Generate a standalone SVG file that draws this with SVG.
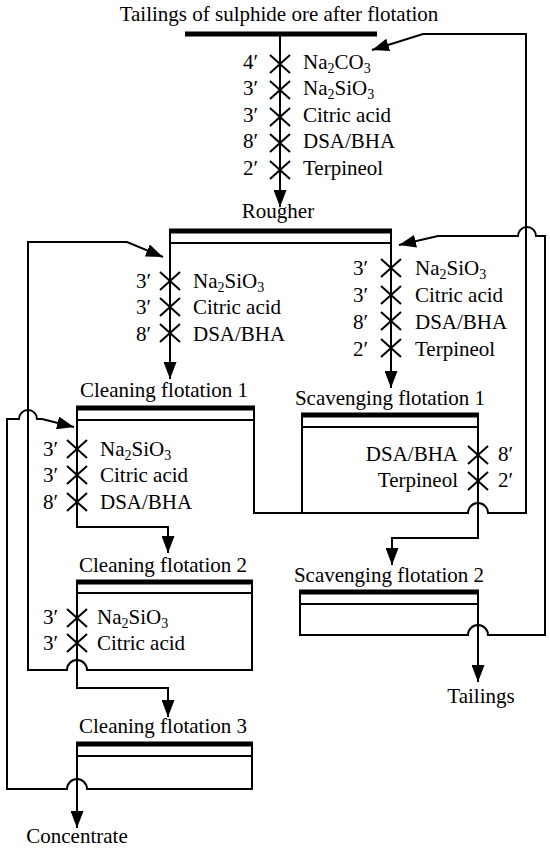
<svg xmlns="http://www.w3.org/2000/svg" width="550" height="851" viewBox="0 0 550 851" font-family="'Liberation Serif', 'Times New Roman', 'DejaVu Serif', serif" font-size="21">
<defs>
<marker id="ah" markerUnits="userSpaceOnUse" markerWidth="17" markerHeight="13" refX="17" refY="6.5" orient="auto" viewBox="0 0 17 13">
<path d="M0,0 L17,6.5 L0,13 z" fill="#000"/>
</marker>
<path id="x" d="M-10,-9 L10,9 M-10,9 L10,-9" stroke="#000" stroke-width="2" fill="none"/>
</defs>
<style>
.ln{fill:none;stroke:#000;stroke-width:2}
.ar{fill:none;stroke:#000;stroke-width:2;marker-end:url(#ah)}
.bar{fill:none;stroke:#000;stroke-width:5}
.thin{fill:none;stroke:#000;stroke-width:1.8}
text{font-family:'Liberation Serif', 'Times New Roman', 'DejaVu Serif', serif;font-size:21px;fill:#000}
.c{text-anchor:middle}
.e{text-anchor:end}
.s{font-size:14px}
</style>
<rect width="550" height="851" fill="#fff"/>

<g id="feed">
<line class="bar" x1="185" y1="34" x2="377" y2="34"/>
<text class="c" x="279" y="21">Tailings of sulphide ore after flotation</text>
</g>

<g id="rougher">
<line class="bar" x1="169" y1="231" x2="392" y2="231"/>
<line class="thin" x1="170" y1="243" x2="391" y2="243"/>
<text class="c" x="278" y="218">Rougher</text>
</g>

<g id="cleaning1">
<line class="bar" x1="76" y1="408" x2="255" y2="408"/>
<line class="thin" x1="77" y1="420" x2="254" y2="420"/>
<text class="c" x="164" y="397">Cleaning flotation 1</text>
</g>

<g id="scavenging1">
<line class="bar" x1="301" y1="415" x2="479" y2="415"/>
<line class="thin" x1="302" y1="427" x2="478" y2="427"/>
<text class="c" x="390" y="405">Scavenging flotation 1</text>
</g>

<g id="cleaning2">
<line class="bar" x1="76" y1="582" x2="253" y2="582"/>
<line class="thin" x1="77" y1="593" x2="252" y2="593"/>
<text class="c" x="163" y="572">Cleaning flotation 2</text>
</g>

<g id="scavenging2">
<line class="bar" x1="299" y1="592" x2="479" y2="592"/>
<line class="thin" x1="300" y1="604" x2="478" y2="604"/>
<text class="c" x="389" y="582">Scavenging flotation 2</text>
</g>

<g id="cleaning3">
<line class="bar" x1="76" y1="744" x2="253" y2="744"/>
<line class="thin" x1="77" y1="756" x2="252" y2="756"/>
<text class="c" x="163" y="733">Cleaning flotation 3</text>
</g>

<g id="tailings">
<text class="c" x="481" y="703">Tailings</text>
</g>

<g id="concentrate">
<text class="c" x="77" y="843">Concentrate</text>
</g>

<g id="connectors">
<path class="ar" d="M280,34 L280,207"/>
<path class="ar" d="M170,231 L170,379"/>
<path class="ar" d="M391,231 L391,388"/>
<path class="ar" d="M77,408 L77,527 L168,527 L168,553"/>
<path class="ar" d="M254,408 L254,513 L468,513 A10,10 0 0 1 488,513 L526,513 L526,34 L423,34 L372,50"/>
<path class="ln" d="M302,415 L302,513"/>
<path class="ar" d="M478,415 L478,538 L392,538 L392,565"/>
<path class="ar" d="M300,592 L300,635 L468,635 A10,10 0 0 1 488,635 L545,635 L545,236 L536,236 A9,9 0 0 0 518,236 L438,236 L399,245"/>
<path class="ar" d="M478,592 L478,682"/>
<path class="ar" d="M77,582 L77,688 L168,688 L168,717"/>
<path class="ar" d="M252,582 L252,670 L87,670 A10,10 0 0 0 67,670 L28,670 L28,242 L127,242 L163,257"/>
<path class="ar" d="M77,744 L77,828"/>
<path class="ar" d="M252,744 L252,789 L87,789 A10,10 0 0 0 67,789 L7,789 L7,419 L19,419 A9,9 0 0 1 37,419 L42,419 L74,427"/>
</g>

<g id="reagents-feed">
<use href="#x" x="280" y="64"/>
<use href="#x" x="280" y="90"/>
<use href="#x" x="280" y="117"/>
<use href="#x" x="280" y="143"/>
<use href="#x" x="280" y="170"/>
<text class="e" x="258" y="69">4′</text>
<text class="e" x="258" y="95">3′</text>
<text class="e" x="258" y="122">3′</text>
<text class="e" x="258" y="148">8′</text>
<text class="e" x="258" y="175">2′</text>
<text x="303" y="69">Na<tspan class="s" dy="4">2</tspan><tspan dy="-4">CO</tspan><tspan class="s" dy="4">3</tspan></text>
<text x="303" y="95">Na<tspan class="s" dy="4">2</tspan><tspan dy="-4">SiO</tspan><tspan class="s" dy="4">3</tspan></text>
<text x="303" y="122">Citric acid</text>
<text x="303" y="148">DSA/BHA</text>
<text x="303" y="175">Terpineol</text>
</g>

<g id="reagents-cleaning1">
<use href="#x" x="170" y="281"/>
<use href="#x" x="170" y="307"/>
<use href="#x" x="170" y="333"/>
<text class="e" x="151" y="288">3′</text>
<text class="e" x="151" y="314">3′</text>
<text class="e" x="151" y="341">8′</text>
<text x="193" y="288">Na<tspan class="s" dy="4">2</tspan><tspan dy="-4">SiO</tspan><tspan class="s" dy="4">3</tspan></text>
<text x="193" y="314">Citric acid</text>
<text x="193" y="341">DSA/BHA</text>
</g>

<g id="reagents-scavenging1">
<use href="#x" x="391" y="268"/>
<use href="#x" x="391" y="295"/>
<use href="#x" x="391" y="321"/>
<use href="#x" x="391" y="348"/>
<text class="e" x="368" y="275">3′</text>
<text class="e" x="368" y="302">3′</text>
<text class="e" x="368" y="329">8′</text>
<text class="e" x="368" y="356">2′</text>
<text x="415" y="275">Na<tspan class="s" dy="4">2</tspan><tspan dy="-4">SiO</tspan><tspan class="s" dy="4">3</tspan></text>
<text x="415" y="302">Citric acid</text>
<text x="415" y="329">DSA/BHA</text>
<text x="415" y="356">Terpineol</text>
</g>

<g id="reagents-cleaning2">
<use href="#x" x="77" y="449"/>
<use href="#x" x="77" y="475"/>
<use href="#x" x="77" y="502"/>
<text class="e" x="58" y="456">3′</text>
<text class="e" x="58" y="482">3′</text>
<text class="e" x="58" y="509">8′</text>
<text x="100" y="456">Na<tspan class="s" dy="4">2</tspan><tspan dy="-4">SiO</tspan><tspan class="s" dy="4">3</tspan></text>
<text x="100" y="482">Citric acid</text>
<text x="100" y="509">DSA/BHA</text>
</g>

<g id="reagents-scavenging2">
<use href="#x" x="478" y="455"/>
<use href="#x" x="478" y="481"/>
<text class="e" x="458" y="461">DSA/BHA</text>
<text class="e" x="458" y="487">Terpineol</text>
<text x="498" y="461">8′</text>
<text x="498" y="487">2′</text>
</g>

<g id="reagents-cleaning3">
<use href="#x" x="77" y="618"/>
<use href="#x" x="77" y="643"/>
<text class="e" x="58" y="624">3′</text>
<text class="e" x="58" y="650">3′</text>
<text x="97" y="624">Na<tspan class="s" dy="4">2</tspan><tspan dy="-4">SiO</tspan><tspan class="s" dy="4">3</tspan></text>
<text x="97" y="650">Citric acid</text>
</g>
</svg>
